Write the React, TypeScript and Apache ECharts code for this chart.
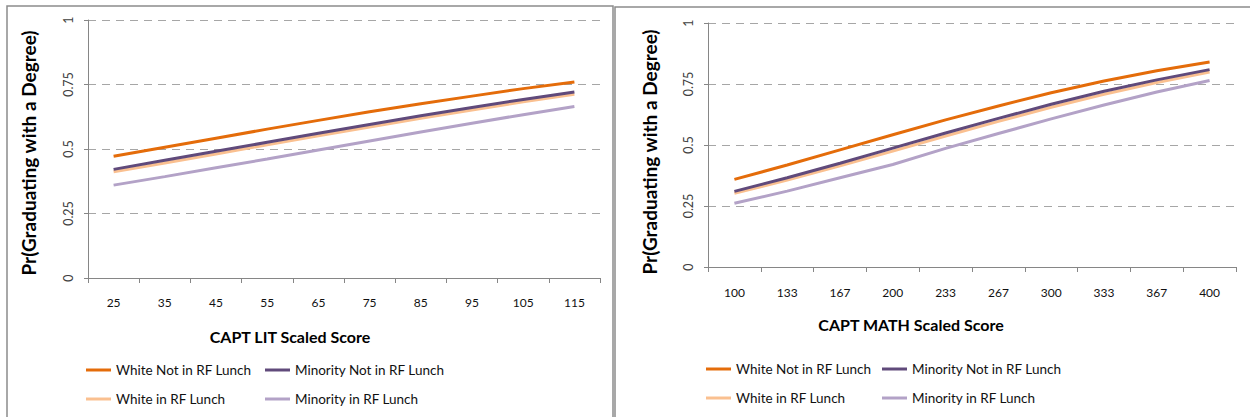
import React, { useEffect, useRef } from "react";
import * as echarts from "echarts";

const seriesNames = [
  "White Not in RF Lunch",
  "Minority Not in RF Lunch",
  "White in RF Lunch",
  "Minority in RF Lunch",
];
const seriesColors = ["#E46C0A", "#604A7B", "#FAC090", "#B3A2C7"];

const litScores = ["25", "35", "45", "55", "65", "75", "85", "95", "105", "115"];
const litWhiteNot = [0.472, 0.507, 0.542, 0.577, 0.611, 0.644, 0.675, 0.705, 0.734, 0.76];
const litMinorityNot = [0.421, 0.456, 0.491, 0.526, 0.561, 0.595, 0.629, 0.661, 0.692, 0.721];
const litWhiteIn = [0.412, 0.446, 0.481, 0.516, 0.551, 0.585, 0.619, 0.651, 0.683, 0.712];
const litMinorityIn = [0.36, 0.393, 0.427, 0.461, 0.496, 0.531, 0.566, 0.6, 0.633, 0.665];

const mathScores = ["100", "133", "167", "200", "233", "267", "300", "333", "367", "400"];
const mathWhiteNot = [0.359, 0.418, 0.48, 0.542, 0.603, 0.66, 0.714, 0.762, 0.804, 0.84];
const mathMinorityNot = [0.31, 0.366, 0.425, 0.487, 0.549, 0.609, 0.667, 0.72, 0.767, 0.809];
const mathWhiteIn = [0.302, 0.356, 0.415, 0.475, 0.537, 0.597, 0.655, 0.708, 0.756, 0.799];
const mathMinorityIn = [0.261, 0.311, 0.366, 0.42, 0.486, 0.547, 0.607, 0.664, 0.717, 0.764];

const yTitle = "Pr(Graduating with a Degree)";
const litTitle = "CAPT LIT Scaled Score";
const mathTitle = "CAPT MATH Scaled Score";

const FONT = "Lato, 'Open Sans', sans-serif";
const AXIS_GRAY = "#868686";

function yAxis(gridIndex: number) {
  return {
    type: "value",
    gridIndex,
    min: 0,
    max: 1,
    interval: 0.25,
    axisLine: { show: true, lineStyle: { color: AXIS_GRAY, width: 1 } },
    axisTick: { show: true, length: 4, lineStyle: { color: AXIS_GRAY } },
    axisLabel: {
      rotate: 90,
      margin: 13,
      fontSize: 12.5,
      fontFamily: FONT,
      color: "#404040",
    },
    splitLine: {
      show: true,
      lineStyle: { color: "#A6A6A6", type: [8, 6], width: 1 },
    },
  };
}

function xAxis(gridIndex: number, data: string[], margin: number) {
  return {
    type: "category",
    gridIndex,
    data,
    boundaryGap: true,
    axisLine: { show: true, lineStyle: { color: AXIS_GRAY, width: 1 } },
    axisTick: { show: true, length: 5, lineStyle: { color: AXIS_GRAY } },
    axisLabel: {
      interval: 0,
      margin,
      fontSize: 12,
      fontFamily: FONT,
      color: "#111",
    },
    splitLine: { show: false },
  };
}

function lines(idx: number, sets: number[][]) {
  return sets.map((d, i) => ({
    type: "line",
    name: seriesNames[i],
    xAxisIndex: idx,
    yAxisIndex: idx,
    data: d,
    color: seriesColors[i],
    lineStyle: { width: 3, color: seriesColors[i] },
    symbol: "none",
    smooth: false,
    z: 10 - i,
  }));
}

function legend(left: number, top: number, names: string[]) {
  return {
    orient: "vertical",
    left,
    top,
    padding: 0,
    data: names,
    icon: "rect",
    itemWidth: 25,
    itemHeight: 3,
    itemGap: 13,
    selectedMode: false,
    textStyle: { fontSize: 13.5, fontFamily: FONT, color: "#111", lineHeight: 16 },
  };
}

function vTitle(x: number, y: number) {
  return {
    type: "text",
    x,
    y,
    rotation: Math.PI / 2,
    style: {
      text: yTitle,
      fontSize: 19,
      fontWeight: "bold",
      fontFamily: FONT,
      fill: "#000",
      align: "center",
      verticalAlign: "middle",
    },
  };
}

function hTitle(x: number, y: number, text: string) {
  return {
    type: "text",
    x,
    y,
    style: {
      text,
      fontSize: 16,
      fontWeight: "bold",
      fontFamily: FONT,
      fill: "#000",
      align: "center",
      verticalAlign: "middle",
    },
  };
}

export default function App() {
  const ref = useRef<HTMLDivElement>(null);
  useEffect(() => {
    if (!ref.current) return;
    const chart = echarts.init(ref.current, null, { renderer: "svg" });
    chart.setOption({
      animation: false,
      backgroundColor: "#fff",
      grid: [
        { left: 88, top: 20, width: 512, height: 258 },
        { left: 708, top: 23, width: 528, height: 244 },
      ],
      xAxis: [xAxis(0, litScores, 18), xAxis(1, mathScores, 19)],
      yAxis: [yAxis(0), yAxis(1)],
      legend: [
        legend(86, 362, [seriesNames[0], seriesNames[2]]),
        legend(265, 362, [seriesNames[1], seriesNames[3]]),
        legend(706, 361, [seriesNames[0], seriesNames[2]]),
        legend(882, 361, [seriesNames[1], seriesNames[3]]),
      ],
      series: [
        ...lines(0, [litWhiteNot, litMinorityNot, litWhiteIn, litMinorityIn]),
        ...lines(1, [mathWhiteNot, mathMinorityNot, mathWhiteIn, mathMinorityIn]),
      ],
      graphic: [
        {
          type: "rect",
          shape: { x: 7, y: 6, width: 606, height: 430 },
          style: { fill: "none", stroke: "#8C8C8C", lineWidth: 1.5 },
          silent: true,
          z: -1,
        },
        {
          type: "rect",
          shape: { x: 615, y: 7, width: 660, height: 430 },
          style: { fill: "none", stroke: "#8C8C8C", lineWidth: 1.5 },
          silent: true,
          z: -1,
        },
        vTitle(28, 153),
        vTitle(649, 152),
        hTitle(290, 336, litTitle),
        hTitle(911, 324, mathTitle),
      ],
    });
    return () => chart.dispose();
  }, []);
  return (
    <div
      ref={ref}
      style={{ position: "absolute", left: 0, top: 0, width: 1250, height: 417 }}
    />
  );
}
